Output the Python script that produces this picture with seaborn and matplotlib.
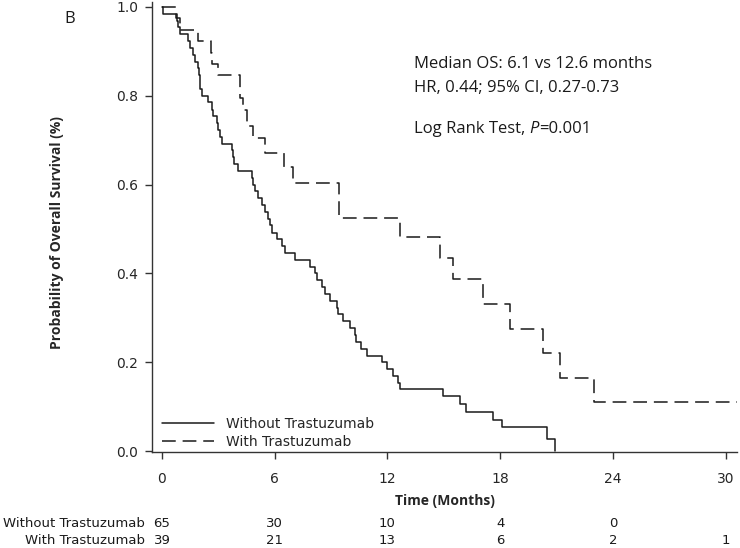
import matplotlib
matplotlib.use("Agg")
import matplotlib.pyplot as plt
import seaborn as sns

# Kaplan-Meier steps (time in months, survival after each step)
without_time = [0, 0.05, 0.8, 0.85, 0.95, 1.38, 1.49, 1.65, 1.76, 1.9, 1.97, 2.02, 2.05,
                2.13, 2.45, 2.66, 2.71, 2.93, 2.98, 3.09, 3.19, 3.75, 3.78, 3.85, 4.04,
                4.79, 4.84, 4.95, 5.1, 5.3, 5.48, 5.64, 5.74, 5.85, 6.1, 6.4, 6.54, 7.07,
                7.87, 8.14, 8.24, 8.5, 8.67, 8.94, 9.3, 9.36, 9.63, 10.0, 10.27, 10.3,
                10.6, 10.9, 11.7, 12.0, 12.3, 12.55, 12.66, 14.95, 15.85, 16.2, 17.6,
                18.1, 20.5, 20.9]
without_surv = [1.0, 0.985, 0.969, 0.954, 0.938, 0.923, 0.908, 0.892, 0.877, 0.862, 0.846,
                0.831, 0.815, 0.800, 0.785, 0.769, 0.754, 0.738, 0.723, 0.708, 0.692,
                0.677, 0.662, 0.646, 0.631, 0.615, 0.600, 0.585, 0.569, 0.554, 0.538,
                0.523, 0.508, 0.492, 0.477, 0.462, 0.446, 0.431, 0.415, 0.400, 0.385,
                0.369, 0.354, 0.338, 0.323, 0.308, 0.292, 0.277, 0.262, 0.246, 0.231,
                0.215, 0.200, 0.185, 0.169, 0.154, 0.141, 0.125, 0.107, 0.089, 0.071,
                0.054, 0.027, 0.0]

with_time = [0, 0.74, 0.95, 1.91, 2.6, 2.65, 2.98, 4.15, 4.3, 4.5, 4.84, 5.5, 6.5, 6.97,
             9.4, 12.66, 14.8, 15.5, 17.1, 18.5, 20.3, 21.2, 23.0, 30.6]
with_surv = [1.0, 0.974, 0.949, 0.923, 0.897, 0.872, 0.846, 0.795, 0.769, 0.731, 0.705,
             0.671, 0.640, 0.604, 0.525, 0.482, 0.435, 0.387, 0.331, 0.275, 0.221, 0.165,
             0.110, 0.110]

# number at risk table
risk_times = [0, 6, 12, 18, 24, 30]
without_risk = [65, 30, 10, 4, 0]
with_risk = [39, 21, 13, 6, 2, 1]

groups = ["Without Trastuzumab", "With Trastuzumab"]
xticks = [0, 6, 12, 18, 24, 30]
yticks = [0.0, 0.2, 0.4, 0.6, 0.8, 1.0]

sns.set_style("ticks")
plt.rcParams["font.family"] = ["Liberation Sans Narrow", "DejaVu Sans"]

fig = plt.figure(figsize=(7.4, 5.48), dpi=100)
ax = fig.add_axes([0.2054, 0.175, 0.7905, 0.8214])

ink = "#1a1a1a"
sns.lineplot(x=without_time, y=without_surv, estimator=None, sort=False,
             drawstyle="steps-post", color=ink, linewidth=1.1, label=groups[0], ax=ax)
sns.lineplot(x=with_time, y=with_surv, estimator=None, sort=False,
             drawstyle="steps-post", color=ink, linewidth=1.1,
             linestyle=(0, (9, 4.5)), label=groups[1], ax=ax)

ax.set_xlim(-0.53, 30.6)
ax.set_ylim(-0.002, 1.011)
ax.set_xticks(xticks)
ax.set_yticks(yticks)
ax.set_yticklabels([f"{v:.1f}" for v in yticks])
sns.despine(ax=ax)
for s in ["left", "bottom"]:
    ax.spines[s].set_color("#333333")
    ax.spines[s].set_linewidth(1.0)
ax.tick_params(axis="y", length=5, width=1, color="#333333", pad=5, labelsize=10)
ax.tick_params(axis="x", length=5, width=1, color="#333333", pad=9, labelsize=10)

ax.set_xlabel("Time (Months)", fontsize=10, fontweight="bold", family=["Open Sans", "DejaVu Sans"])
ax.xaxis.set_label_coords(0.5, -0.093)
ax.set_ylabel("Probability of Overall Survival (%)", fontsize=10, fontweight="bold",
              family=["Open Sans", "DejaVu Sans"])
ax.yaxis.set_label_coords(-0.15, 0.487)

leg = ax.legend(loc="lower left", bbox_to_anchor=(0.0, -0.015), frameon=False,
                handlelength=3.8, handletextpad=0.85, fontsize=10, labelspacing=0.3,
                borderaxespad=0.3)

# annotations
txt_font = ["Open Sans", "DejaVu Sans"]
ax.text(13.4, 0.872, "Median OS: 6.1 vs 12.6 months", fontsize=12, va="center",
        family=txt_font, color=ink)
ax.text(13.4, 0.818, "HR, 0.44; 95% CI, 0.27-0.73", fontsize=12, va="center",
        family=txt_font, color=ink)
t1 = ax.text(13.4, 0.716, "Log Rank Test, ", fontsize=12, va="baseline",
             family=txt_font, color=ink)
t2 = ax.annotate("P", xy=(1, 0), xycoords=t1, va="bottom", fontsize=12,
                 family=txt_font, style="italic", color=ink)
ax.annotate("=0.001", xy=(1, 0), xycoords=t2, va="bottom", fontsize=12,
            family=txt_font, color=ink)

fig.text(70 / 740, 1 - 19 / 548, "B", fontsize=12, ha="center", va="center",
         family=txt_font, color=ink)

# number at risk rows
trans = ax.get_xaxis_transform()
rows = [(without_risk, -0.158, groups[0]), (with_risk, -0.196, groups[1])]
for counts, yy, name in rows:
    ax.text(-0.9, yy, name, transform=trans, ha="right", va="center", fontsize=9.5,
            color=ink, clip_on=False)
    for t, n in zip(risk_times, counts):
        ax.text(t, yy, str(n), transform=trans, ha="center", va="center", fontsize=9.5,
                color=ink, clip_on=False)

fig.savefig("out.png", dpi=100)
